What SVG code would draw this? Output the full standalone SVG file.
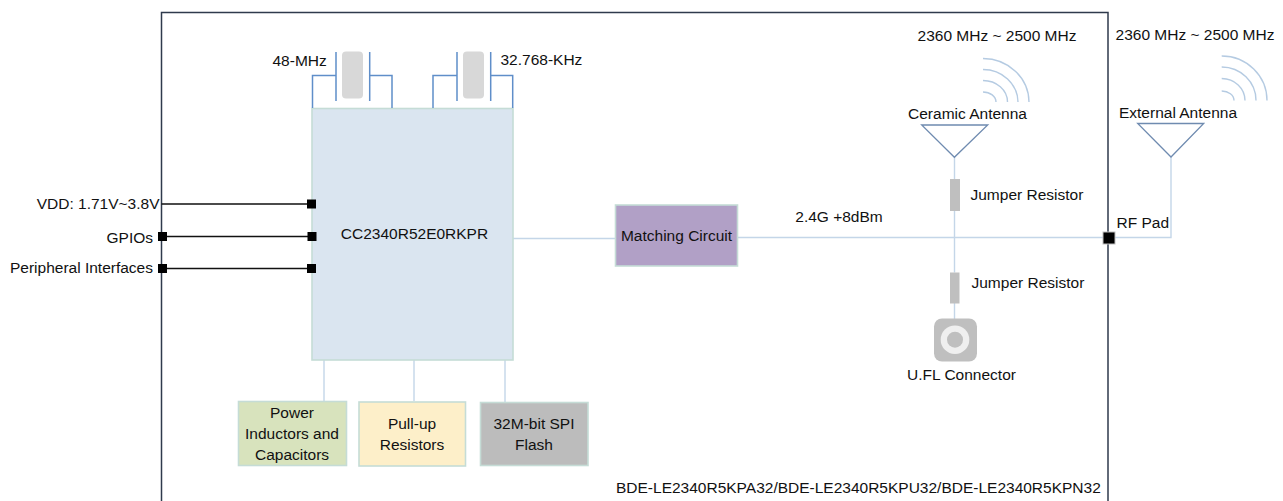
<svg xmlns="http://www.w3.org/2000/svg" width="1283" height="501" viewBox="0 0 1283 501">
<style>
text{font-family:"Liberation Sans",Arial,sans-serif;font-size:15.5px;fill:#111}
.m{text-anchor:middle}.e{text-anchor:end}
.box{stroke:#c5dcd6;stroke-width:1.6}
.lt{fill:none;stroke:#c4d6e8;stroke-width:1.4}
.blk{fill:none;stroke:#111;stroke-width:1.5}
.xt{fill:none;stroke:#5f8ec9;stroke-width:1.5}
.arc{fill:none;stroke:#b5cbe2;stroke-width:1.4}
.ant{fill:none;stroke:#6f8bb0;stroke-width:1.3}
.pad{fill:#000}
.gr{fill:#bfbfbf}
</style>
<rect width="1283" height="501" fill="#fff"/>
<g id="frame"><path d="M161.500 501V12.500H1108V501" fill="none" stroke="#2f3a4c" stroke-width="1.5"/></g>
<g id="connectors">
<path class="lt" d="M513 238.500H615M737.500 237.500H1108.500H1171V157M954.500 157V179M954.500 211V272.500M954.500 303V319M324 360V401M414 360V401M505 360V402"/>
<path class="blk" d="M161.500 204H312M161.500 236.500H312M161.500 268.500H312"/>
</g>
<g id="chip"><rect class="box" x="312" y="108.500" width="201" height="251.500" fill="#dae5f0"/><text class="m" x="414.500" y="239">CC2340R52E0RKPR</text></g>
<g id="crystal-48"><rect x="342" y="51.500" width="21" height="47" rx="4" fill="#d8d8d8"/><path class="xt" d="M336 52V101M369.700 52V101M336 75.500H312.500V108M369.700 75.500H392V108"/><text x="272.500" y="66">48-MHz</text></g>
<g id="crystal-32"><rect x="463" y="51.500" width="21" height="47" rx="4" fill="#d8d8d8"/><path class="xt" d="M457 52V101M490.700 52V101M457 75.500H433V108M490.700 75.500H512.700V108"/><text x="500.500" y="65">32.768-KHz</text></g>
<g id="vdd"><rect class="pad" x="307" y="199.500" width="9" height="9"/><text class="e" x="159.500" y="209">VDD: 1.71V~3.8V</text></g>
<g id="gpios"><rect class="pad" x="158" y="232" width="9" height="9"/><rect class="pad" x="307.500" y="232" width="9" height="9"/><text class="e" x="153" y="243">GPIOs</text></g>
<g id="peripheral"><rect class="pad" x="158" y="264" width="9" height="9"/><rect class="pad" x="307" y="264" width="9" height="9"/><text class="e" x="153" y="273">Peripheral Interfaces</text></g>
<g id="matching"><rect class="box" x="615.500" y="205" width="122" height="61" fill="#b1a0c6"/><text class="m" x="676.500" y="241">Matching Circuit</text></g>
<g id="power"><rect class="box" x="238.500" y="401.500" width="108" height="64" fill="#d8e3bd"/><text class="m" x="292" y="418">Power</text><text class="m" x="292" y="439">Inductors and</text><text class="m" x="292" y="460">Capacitors</text></g>
<g id="pullup"><rect class="box" x="359" y="402" width="106.500" height="64" fill="#fdefc9"/><text class="m" x="412" y="429">Pull-up</text><text class="m" x="412" y="450">Resistors</text></g>
<g id="flash"><rect class="box" x="480.500" y="402.500" width="107.500" height="63" fill="#bcbcbc"/><text class="m" x="534" y="429">32M-bit SPI</text><text class="m" x="534" y="450">Flash</text></g>
<g id="ceramic-antenna">
<path class="arc" d="M983 58.500A46 44 0 0 1 1029 102M983 69.500A35 33 0 0 1 1018 102M983 80.500A24.500 21.500 0 0 1 1007.500 102M983 92A13 10 0 0 1 996 102"/>
<path class="ant" d="M921.700 125H987.700L954.400 157.300Z"/>
<text class="m" x="997" y="41">2360 MHz ~ 2500 MHz</text><text class="m" x="967.500" y="119">Ceramic Antenna</text>
</g>
<g id="external-antenna">
<path class="arc" d="M1221.700 56A45.300 44.500 0 0 1 1267 100.500M1221.700 67A34.300 33.500 0 0 1 1256 100.500M1221.700 78.500A23.300 22 0 0 1 1245 100.500M1221.700 91A12.300 9.500 0 0 1 1234 100.500"/>
<path class="ant" d="M1137.700 123.500H1203.700L1171 157Z"/>
<text class="m" x="1195" y="40">2360 MHz ~ 2500 MHz</text><text class="m" x="1178" y="118">External Antenna</text>
</g>
<g id="jumper-1"><rect class="gr" x="950" y="179" width="10" height="32"/><text x="970.500" y="200">Jumper Resistor</text></g>
<g id="jumper-2"><rect class="gr" x="950" y="272.500" width="9.500" height="31"/><text x="971.500" y="288">Jumper Resistor</text></g>
<g id="ufl"><rect class="gr" x="934" y="318.500" width="43" height="43" rx="8"/><circle cx="955" cy="339.700" r="14.300" fill="#efefef"/><circle cx="955" cy="339.700" r="8" fill="#bfbfbf"/><text class="m" x="961.500" y="380">U.FL Connector</text></g>
<g id="rf-pad"><rect x="1103" y="232" width="12" height="12" fill="#000" stroke="#bdbdbd"/><text x="1116.500" y="228">RF Pad</text></g>
<g id="labels"><text class="m" x="839" y="222">2.4G +8dBm</text><text x="616" y="493">BDE-LE2340R5KPA32/BDE-LE2340R5KPU32/BDE-LE2340R5KPN32</text></g>
</svg>
